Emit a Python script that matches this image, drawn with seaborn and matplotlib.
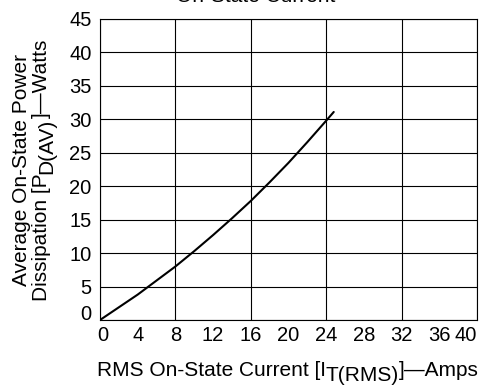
import matplotlib
matplotlib.use("Agg")
import matplotlib.pyplot as plt
from matplotlib.transforms import IdentityTransform, ScaledTranslation
import seaborn as sns
import pandas as pd

# Data
current_amps = [0, 2, 4, 6, 8, 10, 12, 14, 16, 18, 20, 22, 24, 24.8]
power_watts = [0, 1.9, 3.8, 5.9, 8.0, 10.3, 12.7, 15.2, 17.8, 20.6, 23.5, 26.6, 29.8, 31.1]
x_major = [0, 8, 16, 24, 32, 40]
x_minor = [4, 12, 20, 28, 36]
y_ticks = [0, 5, 10, 15, 20, 25, 30, 35, 40, 45]
title = "On-State Current"
xlabel_parts = ["RMS On-State Current [I", "T(RMS)", "]—Amps"]
ylabel_line1 = "Average On-State Power"
ylabel_parts = ["Dissipation [P", "D(AV)", "]—Watts"]

sns.set_theme(style="white")
plt.rcParams["font.family"] = ["Liberation Sans", "DejaVu Sans"]

FS = 15
TFS = 14.5
df = pd.DataFrame({"I": current_amps, "P": power_watts})

W, H = 484, 388
fig = plt.figure(figsize=(W / 100, H / 100), dpi=100)
ax = fig.add_axes([100 / W, 1 - 320 / H, 377 / W, 301 / H])

sns.lineplot(data=df, x="I", y="P", ax=ax, color="black", linewidth=1.5)

ax.set_xlim(0, 40)
ax.set_ylim(0, 45)
ax.set_xticks(x_major)
ax.set_xticklabels([str(v) for v in x_major])
ax.set_xticks(x_minor, minor=True)
ax.set_xticklabels([str(v) for v in x_minor], minor=True)
ax.set_yticks(y_ticks)
ax.set_yticklabels([str(v) for v in y_ticks])
ax.tick_params(axis="both", which="both", length=0, labelsize=TFS, colors="black")
ax.tick_params(axis="x", which="both", pad=4)
ax.tick_params(axis="y", pad=6)
ax.set_xlabel("")
ax.set_ylabel("")

# edge labels nudged inward as in the reference
xl = ax.get_xticklabels()
xl[0].set_transform(xl[0].get_transform() + ScaledTranslation(0.03, 0, fig.dpi_scale_trans))
xl[-1].set_horizontalalignment("right")
yl = ax.get_yticklabels()
yl[0].set_verticalalignment("baseline")

ax.grid(True, which="major", color="black", linewidth=0.8)
ax.grid(False, which="minor")
for s in ax.spines.values():
    s.set_color("black")
    s.set_linewidth(0.8)

renderer = fig.canvas.get_renderer()
ident = IdentityTransform()
SUB = 5  # subscript drop in pixels

# x label (horizontal, pieces chained), centred on the axes
texts = []
x = 0
base_y = H - 376
for i, s in enumerate(xlabel_parts):
    dy = -SUB if i == 1 else 0
    t = fig.text(x, base_y + dy, s, transform=ident, ha="left", va="baseline",
                 fontsize=FS, color="black")
    bb = t.get_window_extent(renderer)
    x = bb.x1
    texts.append(t)
shift = 288 - x / 2
for t in texts:
    px, py = t.get_position()
    t.set_position((px + shift, py))

# y label line 1
fig.text(27, H - 170, ylabel_line1, transform=ident, rotation=90,
         rotation_mode="anchor", ha="center", va="baseline", fontsize=FS, color="black")

# y label line 2 (rotated, chained)
texts = []
y = 0
for i, s in enumerate(ylabel_parts):
    dx = SUB if i == 1 else 0
    t = fig.text(47 + dx, y, s, transform=ident, rotation=90, rotation_mode="anchor",
                 ha="left", va="baseline", fontsize=FS, color="black")
    bb = t.get_window_extent(renderer)
    y = bb.y1
    texts.append(t)
shift = (H - 170) - y / 2
for t in texts:
    px, py = t.get_position()
    t.set_position((px, py + shift))

fig.text(256, H - 2, title, transform=ident, ha="center", va="baseline",
         fontsize=15, color="black")

fig.savefig("out.png", dpi=100)
